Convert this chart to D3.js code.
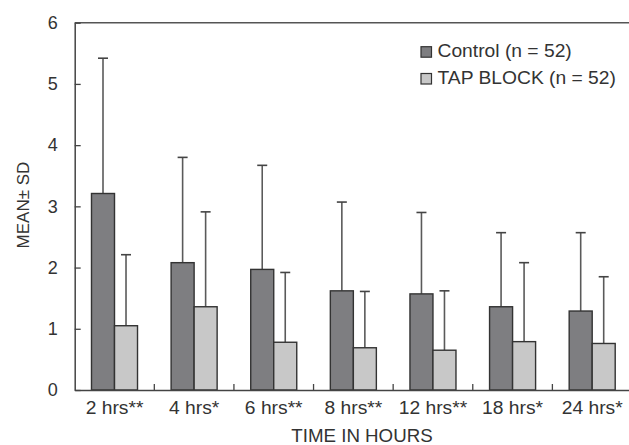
<!DOCTYPE html>
<html>
<head>
<meta charset="utf-8">
<script src="https://cdn.jsdelivr.net/npm/d3@7"></script>
<style>
  html, body { margin: 0; padding: 0; background: #fff; }
  svg { display: block; font-family: "Liberation Sans", Arial, sans-serif; }
</style>
</head>
<body>
<svg id="chart" width="629" height="445"></svg>
<script>
const categories = ["2 hrs**", "4 hrs*", "6 hrs**", "8 hrs**", "12 hrs**", "18 hrs*", "24 hrs*"];
const seriesNames = ["Control (n = 52)", "TAP BLOCK (n = 52)"];
const controlMean = [3.21, 2.08, 1.97, 1.62, 1.57, 1.36, 1.29];
const controlSD   = [2.21, 1.72, 1.70, 1.45, 1.33, 1.21, 1.28];
const tapMean     = [1.05, 1.36, 0.78, 0.69, 0.65, 0.79, 0.76];
const tapSD       = [1.16, 1.55, 1.14, 0.92, 0.97, 1.29, 1.09];
const yTicks = [0, 1, 2, 3, 4, 5, 6];
const xTitle = "TIME IN HOURS";
const yTitle = "MEAN\u00B1 SD";

const colors = ["#7e7e81", "#c8c8c8"];
const ink = "#333";
const stretch = 1.07;

const svg = d3.select("#chart");
const plotLeft = 74.7, plotRight = 632, plotTop = 22.7, plotBottom = 390;

const x = d3.scaleBand().domain(categories).range([plotLeft, plotRight]).paddingInner(0).paddingOuter(0);
const xs = d3.scaleBand().domain([0, 1]).range([0, x.bandwidth()]).paddingInner(0).paddingOuter(0.73);
const y = d3.scaleLinear().domain([0, 6]).range([plotBottom, plotTop]);

const data = categories.map((c, i) => ({
  cat: c,
  vals: [
    { s: 0, mean: controlMean[i], sd: controlSD[i] },
    { s: 1, mean: tapMean[i], sd: tapSD[i] }
  ]
}));

// top frame line
svg.append("line")
  .attr("x1", plotLeft).attr("x2", plotRight).attr("y1", plotTop).attr("y2", plotTop)
  .attr("stroke", "#555").attr("stroke-width", 1.5);

const groups = svg.append("g").selectAll("g").data(data).join("g")
  .attr("transform", d => `translate(${x(d.cat)},0)`);

// error bars
groups.selectAll("g.err").data(d => d.vals).join("g").attr("class", "err")
  .each(function(v) {
    const g = d3.select(this);
    const cx = xs(v.s) + xs.bandwidth() / 2;
    g.append("line").attr("x1", cx).attr("x2", cx)
      .attr("y1", y(v.mean)).attr("y2", y(v.mean + v.sd))
      .attr("stroke", "#5a5a5a").attr("stroke-width", 1.6);
    g.append("line").attr("x1", cx - 5).attr("x2", cx + 5)
      .attr("y1", y(v.mean + v.sd)).attr("y2", y(v.mean + v.sd))
      .attr("stroke", "#444").attr("stroke-width", 1.6);
  });

// bars
groups.selectAll("rect").data(d => d.vals).join("rect")
  .attr("x", v => xs(v.s))
  .attr("width", xs.bandwidth())
  .attr("y", v => y(v.mean))
  .attr("height", v => y(0) - y(v.mean))
  .attr("fill", v => colors[v.s])
  .attr("stroke", ink).attr("stroke-width", 1.4);

// y axis
const yAxis = svg.append("g").attr("transform", `translate(${plotLeft},0)`)
  .call(d3.axisLeft(y).tickValues(yTicks).tickFormat(d3.format("d")).tickSizeInner(-6).tickSizeOuter(0).tickPadding(17));
yAxis.select(".domain").attr("stroke", "#444").attr("stroke-width", 1.5);
yAxis.selectAll(".tick line").attr("stroke", "#444").attr("stroke-width", 1.3);
yAxis.selectAll(".tick text").attr("fill", ink).attr("font-size", 18)
  .attr("font-family", "Liberation Sans, Arial, sans-serif");

// x axis
const xAxis = svg.append("g").attr("transform", `translate(0,${plotBottom})`)
  .call(d3.axisBottom(x).tickSizeInner(0).tickSizeOuter(0).tickPadding(11.5));
xAxis.select(".domain").attr("stroke", "#444").attr("stroke-width", 1.5);
xAxis.selectAll(".tick text").attr("fill", ink).attr("font-size", 18)
  .attr("font-family", "Liberation Sans, Arial, sans-serif")
  .attr("transform", `scale(${stretch},1)`);

// group boundary ticks (inward)
svg.append("g").selectAll("line").data(categories.slice(1)).join("line")
  .attr("x1", d => x(d)).attr("x2", d => x(d))
  .attr("y1", plotBottom).attr("y2", plotBottom - 6)
  .attr("stroke", "#444").attr("stroke-width", 1.3);

// axis titles
svg.append("text")
  .attr("transform", `translate(362,441.5) scale(${stretch},1)`)
  .attr("text-anchor", "middle").attr("fill", ink).attr("font-size", 17.5)
  .text(xTitle);

svg.append("text")
  .attr("transform", `translate(29,205) rotate(-90)`)
  .attr("text-anchor", "middle").attr("fill", ink).attr("font-size", 17)
  .text(yTitle);

// legend
const legend = svg.append("g");
seriesNames.forEach((name, i) => {
  const ly = 46.7 + i * 26.8;
  legend.append("rect")
    .attr("x", 421).attr("y", ly).attr("width", 10.5).attr("height", 10.5)
    .attr("fill", colors[i]).attr("stroke", ink).attr("stroke-width", 1.2);
  legend.append("text")
    .attr("transform", `translate(437.5,${ly + 10.3}) scale(${stretch},1)`)
    .attr("fill", ink).attr("font-size", 18)
    .text(name);
});
</script>
</body>
</html>
